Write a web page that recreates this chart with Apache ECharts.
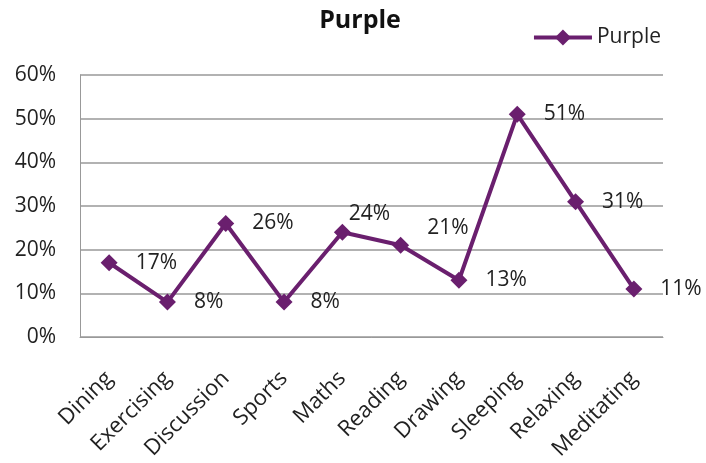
<!DOCTYPE html>
<html><head><meta charset="utf-8">
<script src="https://cdn.jsdelivr.net/npm/echarts@6/dist/echarts.min.js"></script>
<style>html,body{margin:0;padding:0;background:#fff}#c{width:706px;height:463px}</style>
</head><body><div id="c"></div>
<script>
const categories = ['Dining','Exercising','Discussion','Sports','Maths','Reading','Drawing','Sleeping','Relaxing','Meditating'];
const purpleValues = [17, 8, 26, 8, 24, 21, 13, 51, 31, 11];
const yTicks = [0, 10, 20, 30, 40, 50, 60];
const seriesName = 'Purple';
const color = '#6a1f6e';
const font = '"Open Sans", "Liberation Sans", sans-serif';
// label nudges for readability (style only)
const labelNudge = { Maths: [-20, -18], Reading: [0, -17] };
const seriesData = purpleValues.map((v, i) => {
  const o = { value: v };
  if (labelNudge[categories[i]]) o.label = { offset: labelNudge[categories[i]] };
  return o;
});
const chart = echarts.init(document.getElementById('c'));
chart.setOption({
  animation: false,
  backgroundColor: '#fff',
  title: { text: 'Purple', left: 355, top: 3, textAlign: 'center',
    textStyle: { fontFamily: font, fontSize: 25, fontWeight: 'bold', color: '#111' } },
  legend: { right: 40, top: 22, itemWidth: 58, itemHeight: 20, itemGap: 4,
    textStyle: { fontFamily: font, fontSize: 21, color: '#222' },
    lineStyle: { width: 4 },
    data: [seriesName] },
  grid: { left: 80, right: 43, top: 75, bottom: 126 },
  xAxis: { type: 'category', data: categories, boundaryGap: true,
    axisLine: { show: true, lineStyle: { color: '#999' } },
    axisTick: { show: false },
    axisLabel: { rotate: 45, fontFamily: font, fontSize: 22, color: '#222', margin: 38, interval: 0 } },
  yAxis: { type: 'value', min: 0, max: 60, interval: 10,
    axisLine: { show: true, lineStyle: { color: '#999' } },
    axisTick: { show: false },
    splitLine: { lineStyle: { color: '#999', width: 1.5 } },
    axisLabel: { fontFamily: font, fontSize: 21, color: '#222', margin: 24,
      formatter: v => yTicks.includes(v) ? v + '%' : '' } },
  series: [{
    name: seriesName, type: 'line', data: seriesData,
    symbol: 'diamond', symbolSize: 17,
    lineStyle: { color: color, width: 4 },
    itemStyle: { color: color },
    label: { show: true, position: 'right', distance: 18, formatter: p => p.value + '%',
      fontFamily: font, fontSize: 21, color: '#222' }
  }]
});
</script></body></html>
